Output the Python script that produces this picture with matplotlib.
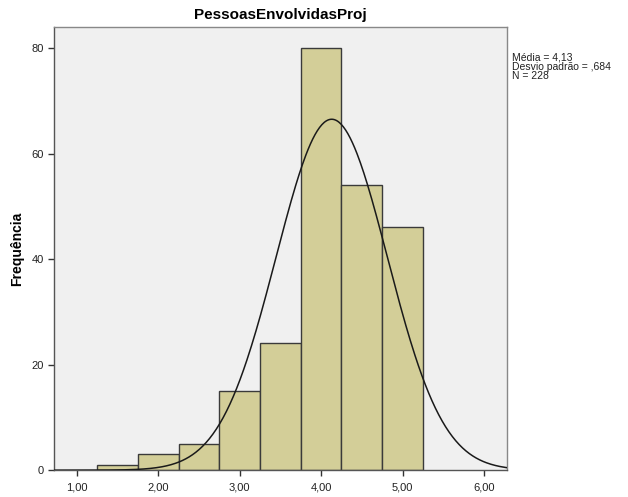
import numpy as np
import matplotlib
matplotlib.use("Agg")
import matplotlib.pyplot as plt

plt.rcParams['font.family'] = ['Liberation Sans', 'DejaVu Sans']

bin_edges = [1.25, 1.75, 2.25, 2.75, 3.25, 3.75, 4.25, 4.75, 5.25]
counts = [1, 3, 5, 15, 24, 80, 54, 46]
mean = 4.13
sd = 0.684
n = 228
xticks = [1, 2, 3, 4, 5, 6]
xtick_labels = ["1,00", "2,00", "3,00", "4,00", "5,00", "6,00"]
yticks = [0, 20, 40, 60, 80]

fig = plt.figure(figsize=(6.28, 4.97), dpi=100)
ax = fig.add_axes([0.086, 0.054, 0.721, 0.892])
ax.set_facecolor('#F0F0F0')

lefts = bin_edges[:-1]
widths = np.diff(bin_edges)
ax.bar(lefts, counts, width=widths, align='edge', color='#D3CE98',
       edgecolor='#3A3A3A', linewidth=1.0, zorder=2)

xlim = (0.72, 6.28)
xs = np.linspace(xlim[0], xlim[1], 400)
bw = widths[0]
ys = n * bw / (sd * np.sqrt(2 * np.pi)) * np.exp(-0.5 * ((xs - mean) / sd) ** 2)
ax.plot(xs, ys, color='#1a1a1a', linewidth=1.1, zorder=3)

ax.set_xlim(*xlim)
ax.set_ylim(0, 84)
ax.set_xticks(xticks)
ax.set_xticklabels(xtick_labels)
ax.set_yticks(yticks)
ax.tick_params(axis='both', direction='out', length=4, width=1, labelsize=8,
               colors='#333333', labelcolor='#222222')
ax.tick_params(axis='x', pad=5)
for s in ax.spines.values():
    s.set_color('#888888')
    s.set_linewidth(1.0)
ax.spines['left'].set_color('#555555')
ax.spines['bottom'].set_color('#555555')

ax.set_title('PessoasEnvolvidasProj', fontsize=11, fontweight='bold', pad=6)
ax.set_ylabel('Frequência', fontsize=10, fontweight='bold')
ax.yaxis.set_label_coords(-0.065, 0.5)

fig.text(0.815, 0.895, 'Média = 4,13\nDesvio padrão = ,684\nN = 228',
         fontsize=7.5, va='top', ha='left', linespacing=0.95, color='#222222')

fig.savefig('out.png', dpi=100)
